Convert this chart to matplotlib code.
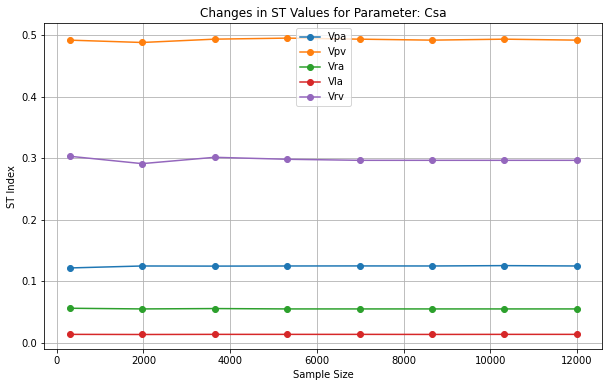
import numpy as np
import matplotlib
matplotlib.use("Agg")
import matplotlib.pyplot as plt

# ----------------------------
# Daten
# ----------------------------
sample_sizes = [300, 1971, 3643, 5314, 6986, 8657, 10329, 12000]

vpa = [0.1215, 0.1247, 0.1245, 0.1247, 0.1248, 0.1247, 0.1253, 0.1247]
vpv = [0.4923, 0.4885, 0.4939, 0.4956, 0.4939, 0.4923, 0.4939, 0.4923]
vra = [0.0559, 0.0548, 0.0554, 0.0548, 0.0548, 0.0548, 0.0548, 0.0548]
vla = [0.0134, 0.0132, 0.0134, 0.0134, 0.0134, 0.0133, 0.0134, 0.0134]
vrv = [0.3033, 0.2913, 0.3016, 0.2984, 0.2967, 0.2967, 0.2967, 0.2967]

series = [("Vpa", vpa), ("Vpv", vpv), ("Vra", vra), ("Vla", vla), ("Vrv", vrv)]

# ----------------------------
# Plot
# ----------------------------
DPI = 72
fig = plt.figure(figsize=(609 / DPI, 387 / DPI), dpi=DPI)
ax = fig.add_axes([0.0727, 0.0974, 0.9163, 0.8424])

for name, vals in series:
    ax.plot(sample_sizes, vals, marker="o", label=name)

ax.set_title("Changes in ST Values for Parameter: Csa")
ax.set_xlabel("Sample Size")
ax.set_ylabel("ST Index")
ax.legend(loc="upper center")
ax.grid(True)

fig.savefig("out.png", dpi=DPI)
